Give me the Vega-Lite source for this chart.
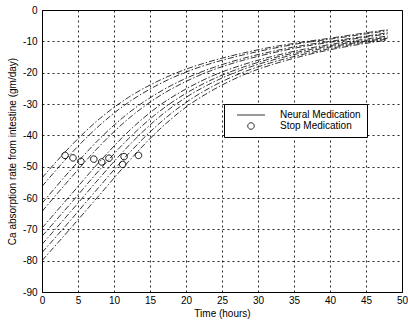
{
  "$schema": "https://vega.github.io/schema/vega-lite/v6.json",
  "width": 360,
  "height": 282,
  "autosize": "none",
  "padding": {"left": 42, "top": 10, "right": 6, "bottom": 32},
  "background": "white",
  "config": {
    "view": {"stroke": "black", "strokeWidth": 1},
    "font": "Liberation Sans",
    "axis": {
      "labelFont": "Liberation Sans",
      "titleFont": "Liberation Sans",
      "labelFontSize": 10,
      "titleFontSize": 10,
      "titleFontWeight": "normal",
      "labelColor": "black",
      "titleColor": "black",
      "labelOverlap": false,
      "labelFlush": false,
      "labelBound": false,
      "domain": false,
      "ticks": false,
      "grid": true,
      "gridColor": "black",
      "gridDash": [2, 3],
      "gridWidth": 1,
      "gridOpacity": 0.85
    }
  },
  "datasets": {
    "curves": [
      {"c": "A", "t": 0, "v": -80}, {"c": "A", "t": 4, "v": -69.6}, {"c": "A", "t": 8, "v": -59.0}, {"c": "A", "t": 12, "v": -48.4}, {"c": "A", "t": 16, "v": -38.8}, {"c": "A", "t": 20, "v": -31.0}, {"c": "A", "t": 24, "v": -25.2}, {"c": "A", "t": 28, "v": -20.7}, {"c": "A", "t": 32, "v": -17.4}, {"c": "A", "t": 36, "v": -14.8}, {"c": "A", "t": 40, "v": -12.7}, {"c": "A", "t": 44, "v": -11.0}, {"c": "A", "t": 48, "v": -9.6},
      {"c": "B", "t": 0, "v": -77.4}, {"c": "B", "t": 4, "v": -67.0}, {"c": "B", "t": 8, "v": -56.3}, {"c": "B", "t": 12, "v": -45.9}, {"c": "B", "t": 16, "v": -36.8}, {"c": "B", "t": 20, "v": -29.5}, {"c": "B", "t": 24, "v": -24.0}, {"c": "B", "t": 28, "v": -19.8}, {"c": "B", "t": 32, "v": -16.7}, {"c": "B", "t": 36, "v": -14.3}, {"c": "B", "t": 40, "v": -12.3}, {"c": "B", "t": 44, "v": -10.6}, {"c": "B", "t": 48, "v": -9.3},
      {"c": "C", "t": 0, "v": -74.8}, {"c": "C", "t": 4, "v": -64.3}, {"c": "C", "t": 8, "v": -53.6}, {"c": "C", "t": 12, "v": -43.4}, {"c": "C", "t": 16, "v": -34.7}, {"c": "C", "t": 20, "v": -27.9}, {"c": "C", "t": 24, "v": -22.8}, {"c": "C", "t": 28, "v": -18.9}, {"c": "C", "t": 32, "v": -16.0}, {"c": "C", "t": 36, "v": -13.7}, {"c": "C", "t": 40, "v": -11.8}, {"c": "C", "t": 44, "v": -10.3}, {"c": "C", "t": 48, "v": -9.0},
      {"c": "D", "t": 0, "v": -72.2}, {"c": "D", "t": 4, "v": -61.7}, {"c": "D", "t": 8, "v": -51.0}, {"c": "D", "t": 12, "v": -41.1}, {"c": "D", "t": 16, "v": -32.9}, {"c": "D", "t": 20, "v": -26.6}, {"c": "D", "t": 24, "v": -21.8}, {"c": "D", "t": 28, "v": -18.2}, {"c": "D", "t": 32, "v": -15.4}, {"c": "D", "t": 36, "v": -13.2}, {"c": "D", "t": 40, "v": -11.4}, {"c": "D", "t": 44, "v": -10.0}, {"c": "D", "t": 48, "v": -8.7},
      {"c": "E", "t": 0, "v": -69.6}, {"c": "E", "t": 4, "v": -59.0}, {"c": "E", "t": 8, "v": -48.4}, {"c": "E", "t": 12, "v": -38.8}, {"c": "E", "t": 16, "v": -31.0}, {"c": "E", "t": 20, "v": -25.2}, {"c": "E", "t": 24, "v": -20.7}, {"c": "E", "t": 28, "v": -17.4}, {"c": "E", "t": 32, "v": -14.8}, {"c": "E", "t": 36, "v": -12.7}, {"c": "E", "t": 40, "v": -11.0}, {"c": "E", "t": 44, "v": -9.6}, {"c": "E", "t": 48, "v": -8.3},
      {"c": "F", "t": 0, "v": -64.3}, {"c": "F", "t": 4, "v": -53.6}, {"c": "F", "t": 8, "v": -43.4}, {"c": "F", "t": 12, "v": -34.7}, {"c": "F", "t": 16, "v": -27.9}, {"c": "F", "t": 20, "v": -22.8}, {"c": "F", "t": 24, "v": -18.9}, {"c": "F", "t": 28, "v": -16.0}, {"c": "F", "t": 32, "v": -13.7}, {"c": "F", "t": 36, "v": -11.8}, {"c": "F", "t": 40, "v": -10.3}, {"c": "F", "t": 44, "v": -9.0}, {"c": "F", "t": 48, "v": -7.6},
      {"c": "G", "t": 0, "v": -61.7}, {"c": "G", "t": 4, "v": -51.0}, {"c": "G", "t": 8, "v": -41.1}, {"c": "G", "t": 12, "v": -32.9}, {"c": "G", "t": 16, "v": -26.6}, {"c": "G", "t": 20, "v": -21.8}, {"c": "G", "t": 24, "v": -18.2}, {"c": "G", "t": 28, "v": -15.4}, {"c": "G", "t": 32, "v": -13.2}, {"c": "G", "t": 36, "v": -11.4}, {"c": "G", "t": 40, "v": -10.0}, {"c": "G", "t": 44, "v": -8.7}, {"c": "G", "t": 48, "v": -7.25},
      {"c": "H", "t": 0, "v": -56.3}, {"c": "H", "t": 4, "v": -45.9}, {"c": "H", "t": 8, "v": -36.8}, {"c": "H", "t": 12, "v": -29.5}, {"c": "H", "t": 16, "v": -24.0}, {"c": "H", "t": 20, "v": -19.8}, {"c": "H", "t": 24, "v": -16.7}, {"c": "H", "t": 28, "v": -14.3}, {"c": "H", "t": 32, "v": -12.3}, {"c": "H", "t": 36, "v": -10.6}, {"c": "H", "t": 40, "v": -9.3}, {"c": "H", "t": 44, "v": -7.95}, {"c": "H", "t": 48, "v": -6.6},
      {"c": "I", "t": 0, "v": -53.6}, {"c": "I", "t": 4, "v": -43.4}, {"c": "I", "t": 8, "v": -34.7}, {"c": "I", "t": 12, "v": -27.9}, {"c": "I", "t": 16, "v": -22.8}, {"c": "I", "t": 20, "v": -18.9}, {"c": "I", "t": 24, "v": -16.0}, {"c": "I", "t": 28, "v": -13.7}, {"c": "I", "t": 32, "v": -11.8}, {"c": "I", "t": 36, "v": -10.3}, {"c": "I", "t": 40, "v": -9.0}, {"c": "I", "t": 44, "v": -7.6}, {"c": "I", "t": 48, "v": -6.3}
    ],
    "stops": [
      {"series": "Stop Medication", "t": 3.2, "v": -46.4},
      {"series": "Stop Medication", "t": 4.3, "v": -47.2},
      {"series": "Stop Medication", "t": 5.4, "v": -48.3},
      {"series": "Stop Medication", "t": 7.2, "v": -47.6},
      {"series": "Stop Medication", "t": 8.3, "v": -48.5},
      {"series": "Stop Medication", "t": 9.3, "v": -47.3},
      {"series": "Stop Medication", "t": 11.4, "v": -46.8},
      {"series": "Stop Medication", "t": 11.2, "v": -49.3},
      {"series": "Stop Medication", "t": 13.4, "v": -46.4}
    ]
  },
  "encoding": {
    "x": {"field": "t", "type": "quantitative", "scale": {"domain": [0, 50], "nice": false},
      "axis": {"values": [0, 5, 10, 15, 20, 25, 30, 35, 40, 45, 50], "tickCount": 30, "title": "Time (hours)", "labelPadding": 3, "titlePadding": 3}},
    "y": {"field": "v", "type": "quantitative", "scale": {"domain": [-90, 0], "nice": false},
      "axis": {"values": [0, -10, -20, -30, -40, -50, -60, -70, -80, -90], "tickCount": 30, "labelExpr": "toString(datum.value)", "title": "Ca absorption rate from intestine (gm/day)", "labelPadding": 5, "titlePadding": 5}}
  },
  "layer": [
    {
      "data": {"name": "curves"},
      "mark": {"type": "line", "color": "black", "strokeWidth": 0.8, "strokeDash": [6, 2, 1.5, 2], "interpolate": "monotone", "clip": true},
      "encoding": {
        "detail": {"field": "c"}
      }
    },
    {
      "data": {"name": "stops"},
      "mark": {"type": "point", "filled": false, "stroke": "black", "strokeWidth": 0.9, "size": 64, "opacity": 1},
      "encoding": {
        "shape": {
          "field": "series",
          "type": "nominal",
          "scale": {
            "domain": ["Neural Medication", "Stop Medication"],
            "range": ["M-3.5,0L3.5,0", "M-0.82,0A0.82,0.82,0,1,1,0.82,0A0.82,0.82,0,1,1,-0.82,0Z"]
          },
          "legend": {
            "title": null,
            "orient": "none",
            "legendX": 182,
            "legendY": 94,
            "strokeColor": "black",
            "fillColor": "white",
            "padding": 6,
            "symbolSize": 64,
            "symbolStrokeColor": "black",
            "symbolStrokeWidth": 0.8,
            "symbolFillColor": "transparent",
            "symbolOffset": 16,
            "labelOffset": 24,
            "labelFont": "Liberation Sans",
            "labelFontSize": 10,
            "labelColor": "black",
            "rowPadding": 1
          }
        }
      }
    }
  ]
}
